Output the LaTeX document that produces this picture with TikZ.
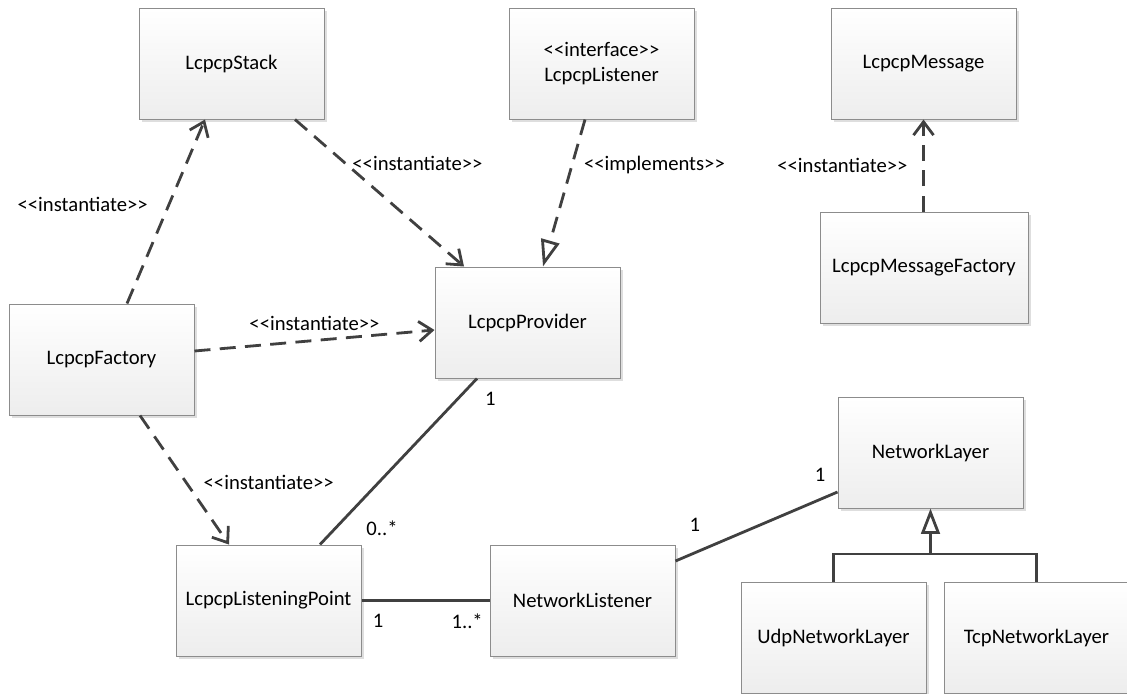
\documentclass[tikz,border=0pt]{standalone}
\usepackage{fontspec}
\newfontfamily\umlfont{Carlito}
\usetikzlibrary{arrows.meta,shadows,positioning}
\definecolor{linegray}{HTML}{404040}
\definecolor{boxline}{HTML}{8C8C8C}

\begin{document}
\begin{tikzpicture}[x=0.75pt,y=-0.75pt,
  font=\umlfont\fontsize{15.5}{19}\selectfont,
  cls/.style={draw=boxline, line width=0.75pt, top color=white, bottom color=black!7,
    minimum width=138.75pt, minimum height=83.25pt, align=center,
    drop shadow={shadow xshift=2.5pt, shadow yshift=-2.5pt, fill=black!13, opacity=1}},
  assoc/.style={draw=linegray, line width=2.1pt},
  dep/.style={assoc, dash pattern=on 12pt off 7pt, -{Straight Barb[length=10pt,width=15pt]}},
  real/.style={assoc, dash pattern=on 12pt off 7pt, -{Triangle[open,length=20pt,width=14pt]}},
  gen/.style={assoc, -{Triangle[open,length=19pt,width=14pt]}},
  lbl/.style={inner sep=0pt},
  mult/.style={inner sep=0pt}]
\useasboundingbox (0,0) rectangle (1127,693);
\node[cls] (stack) at (231.5,63.5) {LcpcpStack};
\node[cls] (listener) at (601.5,63.5) {<<interface>>\\LcpcpListener};
\node[cls] (message) at (923.5,63.5) {LcpcpMessage};
\node[cls, minimum width=156pt] (msgfactory) at (924,267.5) {LcpcpMessageFactory};
\node[cls] (provider) at (527.5,322.5) {LcpcpProvider};
\node[cls] (factory) at (101.5,359.5) {LcpcpFactory};
\node[cls] (netlayer) at (930.5,452.5) {NetworkLayer};
\node[cls] (lpoint) at (268.5,600.5) {LcpcpListeningPoint};
\node[cls] (netlistener) at (582.5,600.5) {NetworkListener};
\node[cls] (udp) at (833.5,637.5) {UdpNetworkLayer};
\node[cls] (tcp) at (1036.5,637.5) {TcpNetworkLayer};
\draw[dep] (factory.north -| 127,0) -- (stack.south -| 205,0) node[lbl, pos=.54, left=15pt] {<<instantiate>>};
\draw[dep] (stack.south -| 295,0) -- (provider.north -| 464,0) node[lbl, pos=.3, right=4pt] {<<instantiate>>};
\draw[real] (listener.south -| 585,0) -- (provider.north -| 543,0) node[lbl, pos=.31, right=8pt] {<<implements>>};
\draw[dep] (msgfactory.north -| 923.5,0) -- (message.south -| 923.5,0) node[lbl, midway, left=11pt] {<<instantiate>>};
\draw[dep] (factory.east |- 0,351) -- (provider.west |- 0,330) node[lbl, midway, above=6pt] {<<instantiate>>};
\draw[dep] (factory.south -| 140,0) -- (lpoint.north -| 229,0) node[lbl, pos=.52, right=12pt] {<<instantiate>>};
\draw[assoc] (provider.south -| 477,0) -- (lpoint.north -| 320,0)
  node[mult, pos=0, below right=9pt and 5pt] {1}
  node[mult, pos=.9, right=22pt] {0..*};
\draw[assoc] (lpoint.east) -- (netlistener.west)
  node[mult, pos=0, below right=9pt and 7.5pt] {1}
  node[mult, pos=1, below left=9pt and 4pt] {1..*};
\draw[assoc] (netlistener.east |- 0,561) -- (netlayer.west |- 0,492)
  node[mult, pos=.12, above=15pt] {1}
  node[mult, pos=1, above left=7pt and 8pt] {1};
\coordinate (bus) at (netlayer.south |- 0,554);
\draw[assoc] (udp.north) -- (udp.north |- bus) -- (tcp.north |- bus) -- (tcp.north);
\draw[gen] (bus) -- (netlayer.south);
\end{tikzpicture}
\end{document}
